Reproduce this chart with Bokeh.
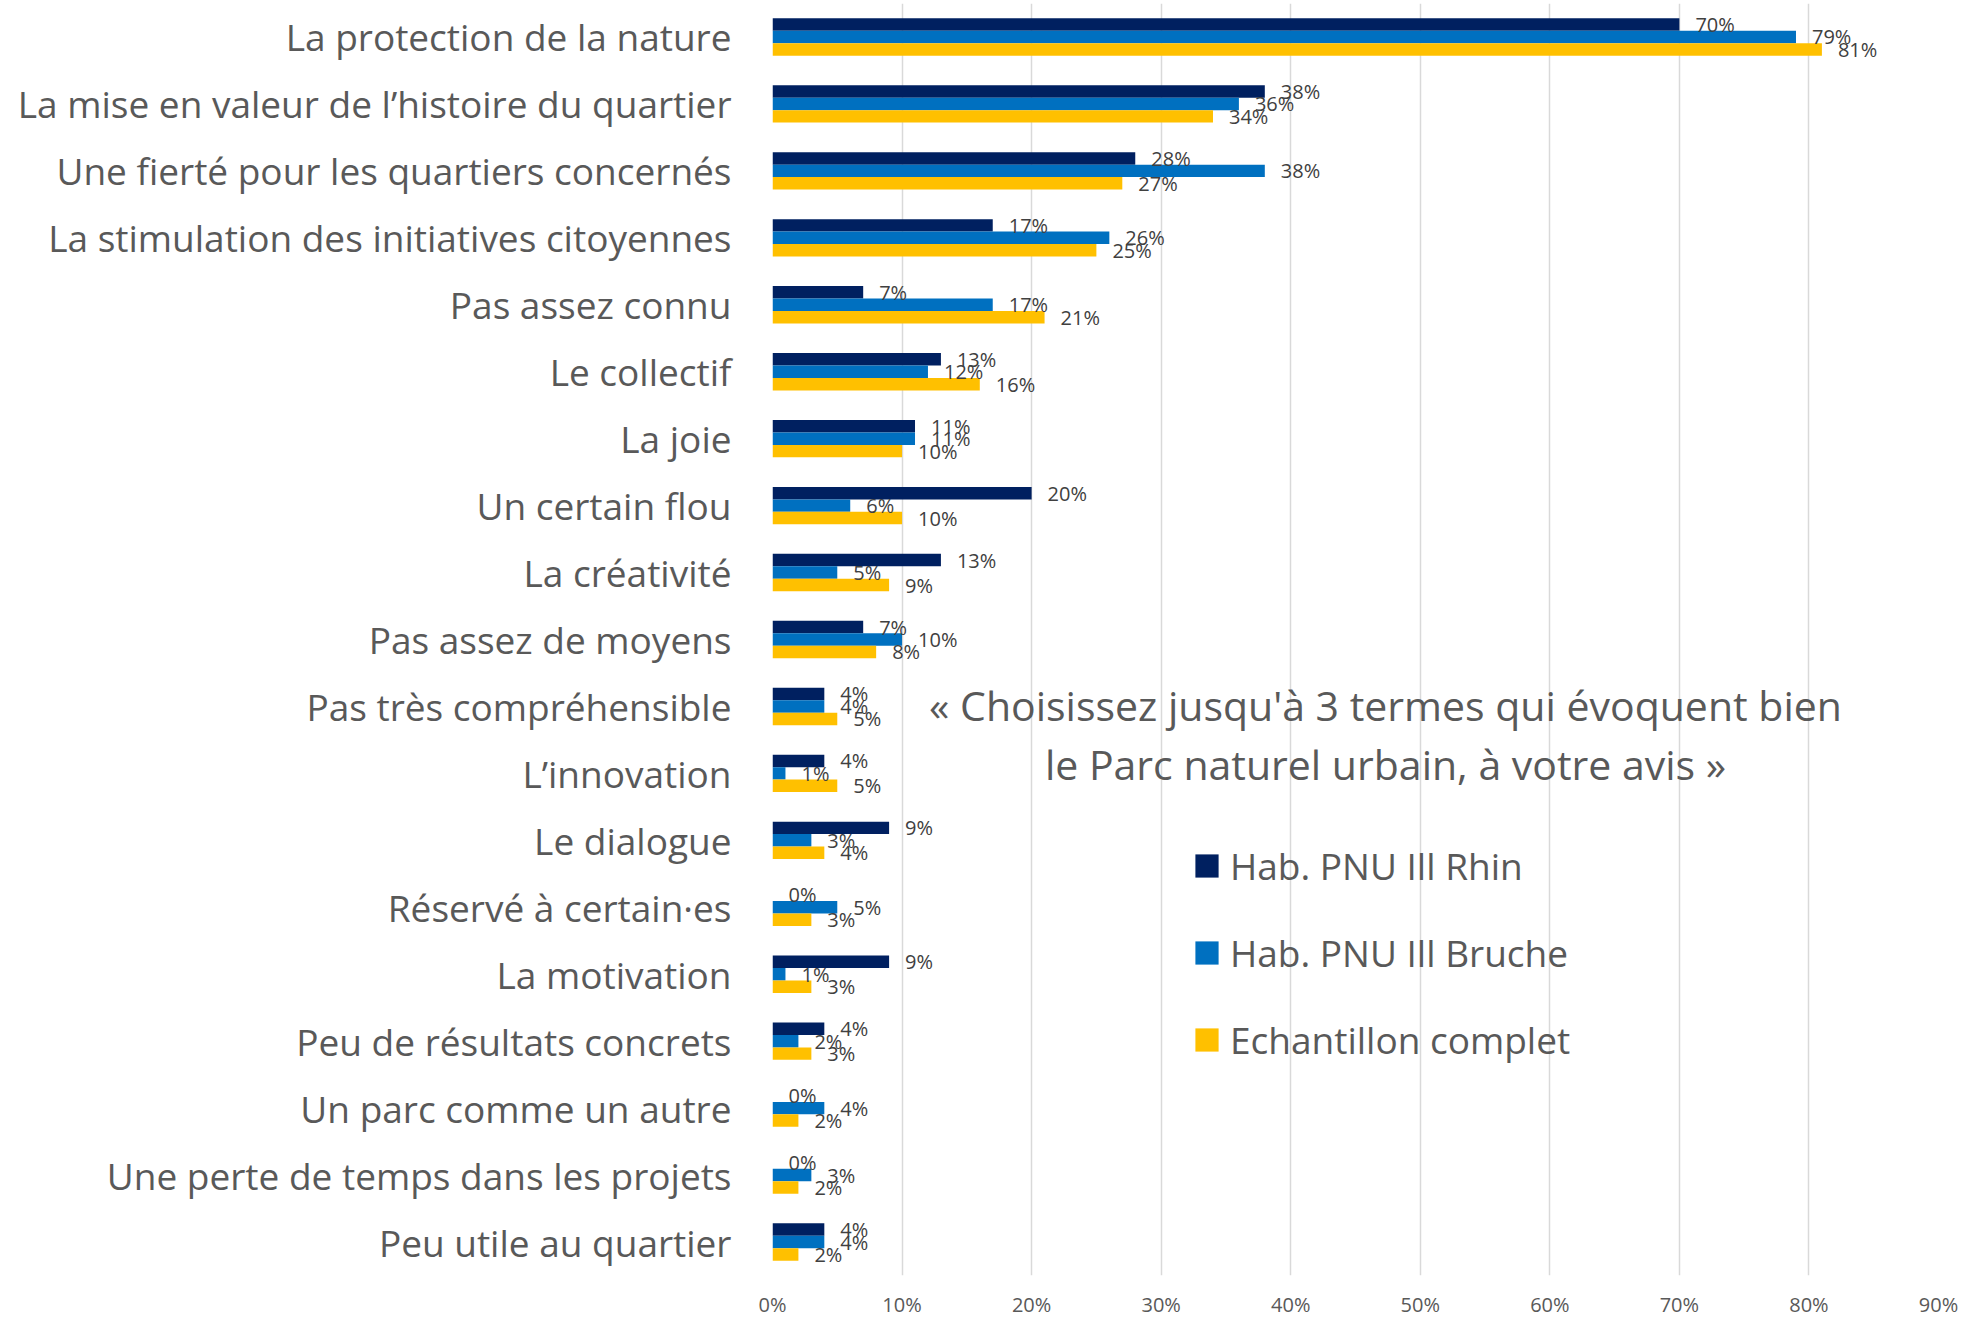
from bokeh.plotting import figure
from bokeh.models import FactorRange, Legend, LegendItem, Label, ColumnDataSource, FixedTicker, PrintfTickFormatter
from bokeh.transform import dodge
from bokeh.core.properties import value
from bokeh.embed import file_html
from bokeh.resources import INLINE

categories = [
    "La protection de la nature",
    "La mise en valeur de l\u2019histoire du quartier",
    "Une fiert\u00e9 pour les quartiers concern\u00e9s",
    "La stimulation des initiatives citoyennes",
    "Pas assez connu",
    "Le collectif",
    "La joie",
    "Un certain flou",
    "La cr\u00e9ativit\u00e9",
    "Pas assez de moyens",
    "Pas tr\u00e8s compr\u00e9hensible",
    "L\u2019innovation",
    "Le dialogue",
    "R\u00e9serv\u00e9 \u00e0 certain\u00b7es",
    "La motivation",
    "Peu de r\u00e9sultats concrets",
    "Un parc comme un autre",
    "Une perte de temps dans les projets",
    "Peu utile au quartier",
]
rhin = [70, 38, 28, 17, 7, 13, 11, 20, 13, 7, 4, 4, 9, 0, 9, 4, 0, 0, 4]
bruche = [79, 36, 38, 26, 17, 12, 11, 6, 5, 10, 4, 1, 3, 5, 1, 2, 4, 3, 4]
complet = [81, 34, 27, 25, 21, 16, 10, 10, 9, 8, 5, 5, 4, 3, 3, 3, 2, 2, 2]
series_names = ["Hab. PNU Ill Rhin", "Hab. PNU Ill Bruche", "Echantillon complet"]
series_colors = ["#002060", "#0070C0", "#FFC000"]
x_ticks = [0, 10, 20, 30, 40, 50, 60, 70, 80, 90]
note_lines = ["\u00ab Choisissez jusqu'\u00e0 3 termes qui \u00e9voquent bien",
              "le Parc naturel urbain, \u00e0 votre avis \u00bb"]

FONT = "Open Sans"
GRAY = "#595959"

src = ColumnDataSource(dict(
    cat=categories,
    rhin=rhin, bruche=bruche, complet=complet,
    rhin_lbl=[f"{v}%" for v in rhin],
    bruche_lbl=[f"{v}%" for v in bruche],
    complet_lbl=[f"{v}%" for v in complet],
))

p = figure(width=1960, height=1320,
           y_range=FactorRange(factors=categories[::-1], range_padding=0),
           x_range=(0, 90),
           output_backend="svg", toolbar_location=None,
           min_border_left=772, min_border_right=22, min_border_top=3, min_border_bottom=43)
p.outline_line_color = None
p.background_fill_color = "white"
p.border_fill_color = "white"

bw = 0.186
offsets = [bw, 0.0, -bw]
cols = ["rhin", "bruche", "complet"]
renderers = []
for col, off, color in zip(cols, offsets, series_colors):
    r = p.hbar(y=dodge("cat", off, range=p.y_range), left=0, right=col, height=bw,
               source=src, fill_color=color, line_color=None)
    renderers.append(r)
for col, off in zip(cols, offsets):
    p.text(x=col, y=dodge("cat", off, range=p.y_range), text=col + "_lbl", source=src,
           x_offset=16, text_align="left", text_baseline="middle",
           text_font=value(FONT), text_font_size="20px", text_color="#404040")

# axes
p.xaxis.ticker = FixedTicker(ticks=x_ticks)
p.xaxis.formatter = PrintfTickFormatter(format="%d%%")
p.xaxis.axis_line_color = None
p.xaxis.major_tick_line_color = None
p.xaxis.minor_tick_line_color = None
p.xaxis.major_tick_out = 0
p.xaxis.major_tick_in = 0
p.xaxis.major_label_standoff = 15
p.xaxis.major_label_text_font = FONT
p.xaxis.major_label_text_font_size = "20px"
p.xaxis.major_label_text_color = GRAY

p.yaxis.axis_line_color = None
p.yaxis.major_tick_line_color = None
p.yaxis.major_tick_out = 0
p.yaxis.major_tick_in = 0
p.yaxis.major_label_standoff = 41
p.yaxis.major_label_text_font = FONT
p.yaxis.major_label_text_font_size = "37px"
p.yaxis.major_label_text_color = GRAY

p.xgrid.grid_line_color = "#d9d9d9"
p.xgrid.grid_line_width = 1.5
p.ygrid.grid_line_color = None

# legend
items = [LegendItem(label=n, renderers=[r]) for n, r in zip(series_names, renderers)]
legend = Legend(items=items, location=(420, 210), orientation="vertical",
                glyph_width=29, glyph_height=29, label_standoff=9,
                spacing=36, padding=0, margin=0, label_height=48,
                border_line_color=None, background_fill_alpha=0,
                label_text_font=FONT, label_text_font_size="37px", label_text_color=GRAY)
p.add_layout(legend)

# note
for i, line in enumerate(note_lines):
    p.add_layout(Label(x=613, y=571 - 59 * i, x_units="screen", y_units="screen", text=line,
                       text_align="center", text_baseline="middle",
                       text_font=FONT, text_font_size="41px", text_color=GRAY))

open("out.html", "w").write(file_html(p, INLINE))
